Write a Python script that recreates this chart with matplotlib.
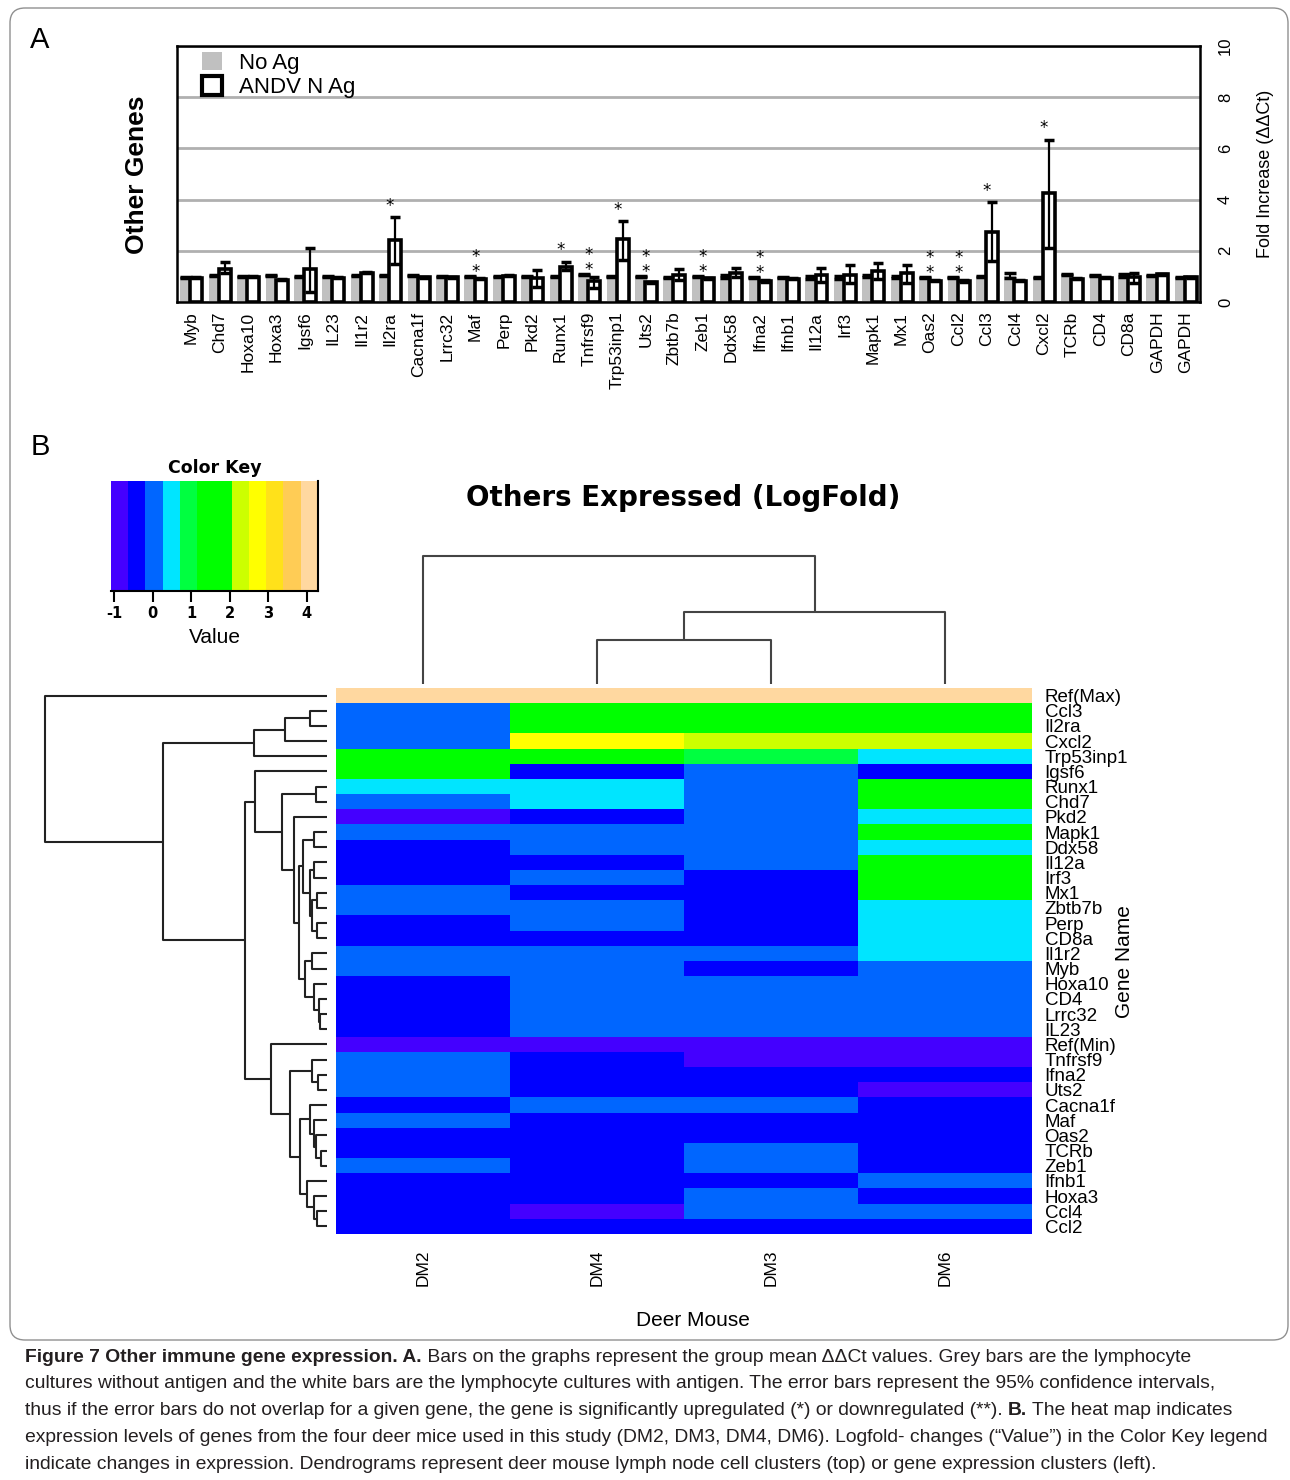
import numpy as np
import matplotlib
matplotlib.use("Agg")
import matplotlib.pyplot as plt
from matplotlib.colors import ListedColormap, BoundaryNorm
from matplotlib.patches import Patch, FancyBboxPatch

plt.rcParams['font.family'] = ['Liberation Sans', 'DejaVu Sans']
NARROW = ['Liberation Sans Narrow', 'Liberation Sans', 'DejaVu Sans']

W, H = 1290, 1480

# ---------- panel A: fold increase per gene
genes = ['Myb', 'Chd7', 'Hoxa10', 'Hoxa3', 'Igsf6', 'IL23', 'Il1r2', 'Il2ra', 'Cacna1f',
         'Lrrc32', 'Maf', 'Perp', 'Pkd2', 'Runx1', 'Tnfrsf9', 'Trp53inp1', 'Uts2', 'Zbtb7b',
         'Zeb1', 'Ddx58', 'Ifna2', 'Ifnb1', 'Il12a', 'Irf3', 'Mapk1', 'Mx1', 'Oas2', 'Ccl2',
         'Ccl3', 'Ccl4', 'Cxcl2', 'TCRb', 'CD4', 'CD8a', 'GAPDH', 'GAPDH']
no_ag = [0.97, 1.02, 1.01, 1.05, 0.98, 0.98, 1.04, 1.04, 1.02, 1.00, 1.01, 1.00, 1.00, 0.98,
         1.06, 0.98, 1.01, 0.95, 1.00, 1.00, 0.97, 0.97, 0.95, 0.95, 1.02, 0.98, 0.97, 0.97,
         0.98, 1.03, 0.96, 1.08, 1.04, 1.04, 1.05, 0.96]
no_ag_err = [0.02, 0.02, 0.02, 0.02, 0.02, 0.02, 0.02, 0.02, 0.02, 0.02, 0.02, 0.02, 0.03, 0.02,
             0.02, 0.02, 0.02, 0.03, 0.02, 0.05, 0.02, 0.02, 0.06, 0.06, 0.05, 0.04, 0.02, 0.02,
             0.02, 0.11, 0.02, 0.02, 0.02, 0.05, 0.02, 0.02]
andv = [0.95, 1.30, 0.99, 0.86, 1.30, 0.94, 1.15, 2.44, 0.96, 0.96, 0.90, 1.03, 0.94, 1.36,
        0.83, 2.45, 0.77, 1.07, 0.93, 1.15, 0.82, 0.90, 1.07, 1.07, 1.23, 1.13, 0.83, 0.82,
        2.75, 0.83, 4.24, 0.90, 0.94, 0.96, 1.08, 0.96]
andv_lo = [0.93, 1.15, 0.97, 0.84, 0.41, 0.92, 1.13, 1.47, 0.94, 0.94, 0.88, 1.01, 0.58, 1.25,
           0.55, 1.63, 0.75, 0.87, 0.91, 0.98, 0.80, 0.88, 0.78, 0.74, 0.91, 0.74, 0.81, 0.80,
           1.60, 0.81, 2.10, 0.88, 0.92, 0.74, 1.06, 0.94]
andv_hi = [0.97, 1.58, 1.01, 0.88, 2.12, 0.96, 1.17, 3.31, 0.98, 0.98, 0.92, 1.05, 1.26, 1.58,
           0.97, 3.15, 0.79, 1.28, 0.95, 1.32, 0.84, 0.92, 1.32, 1.44, 1.54, 1.44, 0.85, 0.84,
           3.89, 0.85, 6.34, 0.92, 0.96, 1.15, 1.10, 0.98]
signif = ['', '', '', '', '', '', '', '*', '', '', '**', '', '', '*', '**', '*', '**', '',
          '**', '', '**', '', '', '', '', '', '**', '**', '*', '', '*', '', '', '', '', '']

# ---------- panel B: heat map (logfold), columns in dendrogram order
row_names = ['Ref(Max)', 'Ccl3', 'Il2ra', 'Cxcl2', 'Trp53inp1', 'Igsf6', 'Runx1', 'Chd7', 'Pkd2',
             'Mapk1', 'Ddx58', 'Il12a', 'Irf3', 'Mx1', 'Zbtb7b', 'Perp', 'CD8a', 'Il1r2', 'Myb',
             'Hoxa10', 'CD4', 'Lrrc32', 'IL23', 'Ref(Min)', 'Tnfrsf9', 'Ifna2', 'Uts2',
             'Cacna1f', 'Maf', 'Oas2', 'TCRb', 'Zeb1', 'Ifnb1', 'Hoxa3', 'Ccl4', 'Ccl2']
mice = ['DM2', 'DM4', 'DM3', 'DM6']
dm2 = [4.2, 0.0, 0.0, 0.0, 1.5, 1.5, 0.45, 0.0, -0.85, 0.0, -0.4, -0.4, -0.4, 0.0, 0.0, -0.4,
       -0.4, 0.0, 0.0, -0.4, -0.4, -0.4, -0.4, -1.0, 0.0, 0.0, 0.0, -0.4, 0.0, -0.4, -0.4, 0.0,
       -0.4, -0.4, -0.4, -0.4]
dm4 = [4.2, 1.5, 1.5, 2.7, 1.5, -0.4, 0.45, 0.45, -0.4, 0.0, 0.0, -0.4, 0.0, -0.4, 0.0, 0.0,
       -0.4, 0.0, 0.0, 0.0, 0.0, 0.0, 0.0, -1.0, -0.4, -0.4, -0.4, 0.0, -0.4, -0.4, -0.4, -0.4,
       -0.4, -0.4, -0.85, -0.4]
dm3 = [4.2, 1.5, 1.5, 2.25, 0.95, 0.0, 0.0, 0.0, 0.0, 0.0, 0.0, 0.0, -0.4, -0.4, -0.4, -0.4,
       -0.4, 0.0, -0.4, 0.0, 0.0, 0.0, 0.0, -1.0, -0.85, -0.4, -0.4, 0.0, -0.4, -0.4, 0.0, 0.0,
       -0.4, 0.0, 0.0, -0.4]
dm6 = [4.2, 1.5, 1.5, 2.25, 0.45, -0.4, 1.5, 1.5, 0.45, 1.5, 0.45, 1.5, 1.5, 1.5, 0.45, 0.45,
       0.45, 0.45, 0.0, 0.0, 0.0, 0.0, 0.0, -1.0, -0.85, -0.4, -0.85, -0.4, -0.4, -0.4, -0.4,
       -0.4, 0.0, -0.4, 0.0, -0.4]
key_lo, key_hi = -1.08, 4.29
key_colors = ['#4400FF', '#0000FF', '#0066FF', '#00E5FF', '#00FF40', '#00FF00', '#00FF00',
              '#CCFF00', '#FFFF00', '#FFE11A', '#FFCC55', '#FFD8A0']

# clustering trees: (height, left, right), leaves are row/column indices
col_tree = (5.0, 0, (2.80, (1.73, 1, 2), 3))
row_tree = (8.45, 0,
            (4.90,
             (2.20, (1.25, (0.50, 1, 2), 3), 4),
             (2.45,
              (2.15, 5,
               (1.35, (0.34, 6, 7),
                (1.00, 8,
                 (0.85,
                  (0.72, (0.40, 9, 10),
                   (0.52, (0.38, 11, 12), (0.45, (0.30, 13, 14), (0.30, 15, 16)))),
                  (0.65, (0.45, 17, 18),
                   (0.38, 19, (0.25, 20, (0.20, 21, 22)))))))),
              (1.68, 23,
               (1.12,
                (0.45, 24, (0.28, 25, 26)),
                (0.82,
                 (0.52, 27, (0.40, 28, (0.32, 29, (0.18, 30, 31)))),
                 (0.60, 32, (0.38, 33, (0.30, 34, 35)))))))))


def px_axes(x0, y0, x1, y1):
    return fig.add_axes([x0 / W, 1 - y1 / H, (x1 - x0) / W, (y1 - y0) / H])


def draw_tree(ax, node, side, color):
    if isinstance(node, int):
        return node + 0.5, 0.0
    h, a, b = node
    pa, ha = draw_tree(ax, a, side, color)
    pb, hb = draw_tree(ax, b, side, color)
    pos = [pa, pa, pb, pb]
    hts = [ha, h, h, hb]
    if side == 'top':
        ax.plot(pos, hts, color=color, lw=1.5, clip_on=False, solid_capstyle='butt')
    else:
        ax.plot(hts, pos, color=color, lw=1.5, clip_on=False, solid_capstyle='butt')
    return (pa + pb) / 2, h


fig = plt.figure(figsize=(W / 100, H / 100), dpi=100)

frame = FancyBboxPatch((0.10, 1.40), 12.78, 13.32, boxstyle='round,pad=0,rounding_size=0.15',
                       transform=fig.dpi_scale_trans, facecolor='none', edgecolor='#909090',
                       lw=1.0)
fig.patches.append(frame)

# ---------- A
fig.text(40 / W, 1 - 40 / H, 'A', fontsize=21, ha='center', va='center')
ax = px_axes(177, 46, 1200, 302)
x = np.arange(len(genes))
ax.bar(x + 0.32, no_ag, 0.41, color='#c0c0c0', zorder=2)
ax.errorbar(x + 0.32, no_ag, yerr=no_ag_err, fmt='none', ecolor='black', elinewidth=1.5,
            capsize=4.2, capthick=2.5, zorder=3)
ax.bar(x + 0.68, andv, 0.42, color='white', edgecolor='black', linewidth=2.6, zorder=4)
err = [np.array(andv) - np.array(andv_lo), np.array(andv_hi) - np.array(andv)]
ax.errorbar(x + 0.68, andv, yerr=err, fmt='none', ecolor='black', elinewidth=1.6,
            capsize=3.8, capthick=2.5, zorder=5)

# significance marks: * up, ** (stacked) down
for i, s in enumerate(signif):
    if not s:
        continue
    top = max(andv_hi[i], no_ag[i] + no_ag_err[i])
    ax.text(i + 0.5, top + 0.45, '\n'.join(s), ha='center', va='center', fontsize=12,
            linespacing=0.8, family='DejaVu Sans')

ax.set_xlim(0, len(genes))
ax.set_ylim(0, 10)
ax.set_xticks(x + 0.5)
ax.set_xticklabels(genes, rotation=90, fontsize=12.5)
ax.tick_params(axis='x', length=0, pad=7)
ax.yaxis.tick_right()
ax.set_yticks([0, 2, 4, 6, 8, 10])
ax.set_yticklabels(['0', '2', '4', '6', '8', '10'], rotation=90, va='center', fontsize=12)
ax.tick_params(axis='y', length=0, pad=13)
ax.yaxis.set_label_position('right')
ax.set_ylabel('Fold Increase (\u0394\u0394Ct)', fontsize=13, labelpad=17)
ax.yaxis.grid(True, color='#b0b0b0', lw=2)
ax.set_axisbelow(True)
for sp in ax.spines.values():
    sp.set_linewidth(1.8)

handles = [Patch(facecolor='#c0c0c0', edgecolor='none', label='No Ag'),
           Patch(facecolor='white', edgecolor='black', linewidth=3, label='ANDV N Ag')]
ax.legend(handles=handles, loc='upper left', bbox_to_anchor=(0.011, 1.03), frameon=False,
          fontsize=16, handlelength=0.9, handleheight=0.9, handletextpad=0.8,
          labelspacing=0.12, borderaxespad=0.2)

fig.text(137 / W, 1 - 175 / H, 'Other Genes', rotation=90, fontsize=19, fontweight='bold',
         ha='center', va='center')

# ---------- B
fig.text(40 / W, 1 - 447 / H, 'B', fontsize=21, ha='center', va='center')
fig.text(683 / W, 1 - 498 / H, 'Others Expressed (LogFold)', fontsize=20, fontweight='bold',
         family='DejaVu Sans', ha='center', va='center')

cmap = ListedColormap(key_colors)
breaks = np.linspace(key_lo, key_hi, len(key_colors) + 1)
norm = BoundaryNorm(breaks, cmap.N)

axk = px_axes(111, 481, 318, 591)
mids = (breaks[:-1] + breaks[1:]) / 2
axk.imshow([mids], cmap=cmap, norm=norm, aspect='auto', extent=(key_lo, key_hi, 0, 1),
           interpolation='nearest')
axk.set_xlim(key_lo, key_hi)
axk.set_yticks([])
axk.set_xticks([-1, 0, 1, 2, 3, 4])
axk.set_xticklabels(['-1', '0', '1', '2', '3', '4'], fontsize=10.5, fontweight='bold',
                    family='DejaVu Sans')
axk.tick_params(axis='x', length=8, width=1.5, pad=3)
axk.spines['top'].set_visible(False)
axk.spines['left'].set_visible(False)
axk.spines['right'].set_linewidth(1.5)
axk.spines['bottom'].set_linewidth(1.5)
axk.set_title('Color Key', fontsize=12.5, fontweight='bold', family='DejaVu Sans', pad=6)
axk.set_xlabel('Value', fontsize=15, labelpad=5)

hm = np.column_stack([dm2, dm4, dm3, dm6])
axh = px_axes(336, 688, 1032, 1234)
axh.imshow(hm, cmap=cmap, norm=norm, aspect='auto', extent=(0, 4, 36, 0),
           interpolation='nearest')
axh.set_xlim(0, 4)
axh.set_ylim(36, 0)
axh.yaxis.tick_right()
axh.set_yticks(np.arange(len(row_names)) + 0.5)
axh.set_yticklabels(row_names, fontsize=13.5, family=NARROW)
axh.set_xticks(np.arange(len(mice)) + 0.5)
axh.set_xticklabels(mice, rotation=90, fontsize=12.5)
axh.tick_params(axis='y', length=0, pad=9)
axh.tick_params(axis='x', length=0, pad=11)
for sp in axh.spines.values():
    sp.set_visible(False)

fig.text(1125 / W, 1 - 962 / H, 'Gene Name', rotation=90, fontsize=15, ha='center',
         va='center')
fig.text(693 / W, 1 - 1321 / H, 'Deer Mouse', fontsize=15, ha='center', va='center')

axt = px_axes(336, 556, 1032, 684)
draw_tree(axt, col_tree, 'top', '#444444')
axt.set_xlim(0, 4)
axt.set_ylim(0, col_tree[0])
axt.axis('off')

axl = px_axes(45, 688, 327, 1234)
draw_tree(axl, row_tree, 'left', '#222222')
axl.set_xlim(row_tree[0], 0)
axl.set_ylim(36, 0)
axl.axis('off')

# ---------- caption
cap_lines = [
    [('Figure 7 Other immune gene expression. A.', True),
     (' Bars on the graphs represent the group mean \u0394\u0394Ct values. Grey bars are the lymphocyte', False)],
    [('cultures without antigen and the white bars are the lymphocyte cultures with antigen. The error bars represent the 95% confidence intervals,', False)],
    [('thus if the error bars do not overlap for a given gene, the gene is significantly upregulated (*) or downregulated (**). ', False),
     ('B.', True), (' The heat map indicates', False)],
    [('expression levels of genes from the four deer mice used in this study (DM2, DM3, DM4, DM6). Logfold- changes (\u201cValue\u201d) in the Color Key legend', False)],
    [('indicate changes in expression. Dendrograms represent deer mouse lymph node cell clusters (top) or gene expression clusters (left).', False)],
]
r = fig.canvas.get_renderer()
probe = fig.text(0, 0, cap_lines[3][0][0], fontsize=10, family=NARROW)
cap_fs = 10 * 1247 / probe.get_window_extent(r).width
probe.remove()

for k, segs in enumerate(cap_lines):
    xp = 25
    yp = 1357 + 26.8 * k
    for s, b in segs:
        t = fig.text(xp / W, 1 - yp / H, s, fontsize=cap_fs, family=NARROW,
                     fontweight='bold' if b else 'normal', va='center', color='#231f20')
        xp += t.get_window_extent(r).width

fig.savefig('out.png', dpi=100)
